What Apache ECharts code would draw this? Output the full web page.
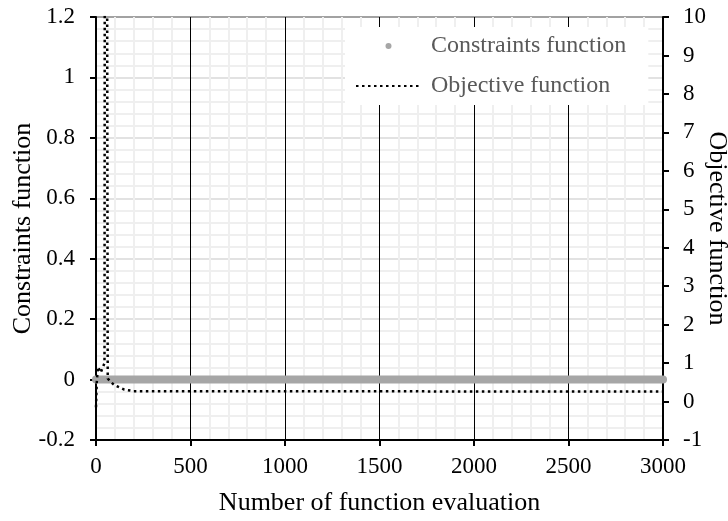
<!DOCTYPE html>
<html>
<head>
<meta charset="utf-8">
<script src="https://cdn.jsdelivr.net/npm/echarts@6/dist/echarts.min.js"></script>
<style>html,body{margin:0;padding:0;background:#fff}#c{width:728px;height:521px}</style>
</head>
<body>
<div id="c"></div>
<script>
// Data
var evalConstraints = [0, 3000];
var valConstraints = [0, 0];
var evalObjective = [0, 4, 10, 25, 45, 50, 62, 80, 100, 150, 200, 3000];
var valObjective = [-0.15, 0.5, 0.9, 0.75, 1.0, 40, 0.6, 0.5, 0.42, 0.31, 0.27, 0.26];
var xTicks = [0, 500, 1000, 1500, 2000, 2500, 3000];
var leftTicks = [-0.2, 0, 0.2, 0.4, 0.6, 0.8, 1, 1.2];
var rightTicks = [-1, 0, 1, 2, 3, 4, 5, 6, 7, 8, 9, 10];

function pairs(xs, ys) { return xs.map(function (x, i) { return [x, ys[i]]; }); }

var FONT = 'Liberation Serif';
var chart = echarts.init(document.getElementById('c'), null, { renderer: 'canvas' });
chart.setOption({
  animation: false,
  backgroundColor: '#fff',
  textStyle: { fontFamily: FONT },
  grid: { left: 96, right: 65, top: 17, bottom: 81, outerBoundsMode: 'none', containLabel: false,
    show: true, borderColor: '#000', borderWidth: 2, backgroundColor: 'transparent' },
  legend: {
    orient: 'vertical', left: 345, top: 27,
    padding: [7, 22, 7, 10],
    backgroundColor: '#fff',
    itemWidth: 65, itemHeight: 6, itemGap: 16,
    textStyle: { fontFamily: FONT, fontSize: 24, color: '#595959', padding: [0, 0, 0, 5] },
    data: [
      { name: 'Constraints function', icon: 'circle' },
      { name: 'Objective function', itemStyle: { opacity: 0 } }
    ]
  },
  xAxis: {
    type: 'value', min: xTicks[0], max: xTicks[xTicks.length - 1], interval: 500,
    name: 'Number of function evaluation', nameLocation: 'middle', nameGap: 50, nameMoveOverlap: false,
    nameTextStyle: { fontFamily: FONT, fontSize: 26, color: '#000' },
    axisLine: { show: true, onZero: false, lineStyle: { color: '#000', width: 2 } },
    axisTick: { show: true, length: 6, lineStyle: { color: '#000', width: 2 } },
    axisLabel: { fontFamily: FONT, fontSize: 23, color: '#000', margin: 15,
      formatter: function (v) { return String(v); } },
    splitLine: { show: true, lineStyle: { color: '#000', width: 1 } },
    minorTick: { show: false, splitNumber: 5 },
    minorSplitLine: { show: true, lineStyle: { color: '#efefef', width: 2 } }
  },
  yAxis: [
    {
      type: 'value', min: leftTicks[0], max: leftTicks[leftTicks.length - 1], interval: 0.2,
      name: 'Constraints function', nameLocation: 'middle', nameGap: 60, nameRotate: 90, nameMoveOverlap: false,
      nameTextStyle: { fontFamily: FONT, fontSize: 26, color: '#000' },
      axisLine: { show: true, onZero: false, lineStyle: { color: '#000', width: 2 } },
      axisTick: { show: true, length: 6, lineStyle: { color: '#000', width: 2 } },
      axisLabel: { fontFamily: FONT, fontSize: 23, color: '#000', margin: 21,
        formatter: function (v) { return String(Math.round(v * 10) / 10); } },
      splitLine: { show: true, lineStyle: { color: '#d9d9d9', width: 1.5 } },
      minorTick: { show: false, splitNumber: 5 },
      minorSplitLine: { show: true, lineStyle: { color: '#efefef', width: 2 } }
    },
    {
      type: 'value', position: 'right', min: rightTicks[0], max: rightTicks[rightTicks.length - 1], interval: 1,
      name: 'Objective function', nameLocation: 'middle', nameGap: 41, nameRotate: -90, nameMoveOverlap: false,
      nameTextStyle: { fontFamily: FONT, fontSize: 26, color: '#000' },
      axisLine: { show: true, onZero: false, lineStyle: { color: '#000', width: 2 } },
      axisTick: { show: true, length: 6, lineStyle: { color: '#000', width: 2 } },
      axisLabel: { fontFamily: FONT, fontSize: 23, color: '#000', margin: 20 },
      splitLine: { show: false }
    }
  ],
  series: [
    {
      name: 'Constraints function', type: 'line', yAxisIndex: 0, z: 2,
      data: pairs(evalConstraints, valConstraints),
      symbol: 'none', clip: false,
      itemStyle: { color: '#a6a6a6' },
      lineStyle: { color: '#a6a6a6', width: 8, cap: 'round' }
    },
    {
      name: 'Objective function', type: 'line', yAxisIndex: 1, z: 3,
      data: pairs(evalObjective, valObjective),
      symbol: 'none', clip: true,
      itemStyle: { color: '#000' },
      lineStyle: { color: '#000', width: 2.5, type: [2.5, 3.5] }
    }
  ]
});
</script>
</body>
</html>
